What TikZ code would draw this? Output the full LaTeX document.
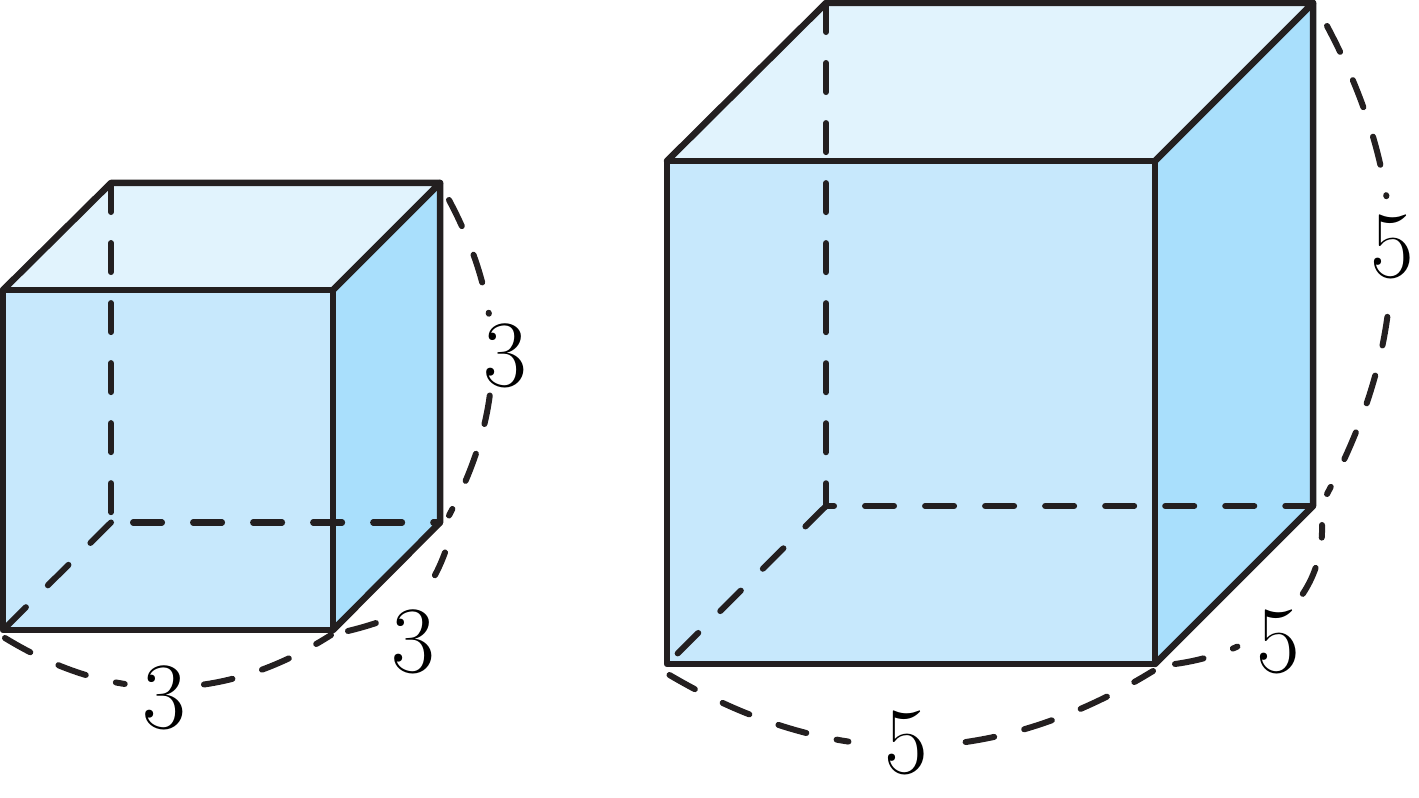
\documentclass[tikz,border=0pt]{standalone}
\usetikzlibrary{calc}
\definecolor{frontblue}{HTML}{C7E8FC}
\definecolor{sideblue}{HTML}{A9DFFC}
\definecolor{topblue}{HTML}{E1F3FD}
\definecolor{inkline}{HTML}{231F20}
\tikzset{%
	frontface/.style={fill=frontblue},
	sideface/.style={fill=sideblue},
	topface/.style={fill=topblue},
	edge/.style={draw=inkline, line width=0.065cm, line join=round, line cap=round},
	hidden/.style={draw=inkline, line width=0.06cm, line cap=round, dash pattern=on 0.29cm off 0.31cm},
	dimlabel/.style={inner sep=0pt, font=\fontsize{27}{27}\selectfont}
}

\begin{document}
\begin{tikzpicture}[x=0.01cm, y=0.01cm]
	\useasboundingbox (0,0) rectangle (1419,797);
	%small cube
	\coordinate (A1) at (3,167);
	\coordinate (A2) at (333,167);
	\coordinate (A3) at (333,507);
	\coordinate (A4) at (3,507);
	\coordinate (A5) at (111,274.5);
	\coordinate (A6) at (440,274.5);
	\coordinate (A7) at (440,614);
	\coordinate (A8) at (111,614);
	%large cube
	\coordinate (B1) at (667,133);
	\coordinate (B2) at (1155,133);
	\coordinate (B3) at (1155,636);
	\coordinate (B4) at (667,636);
	\coordinate (B5) at (826,291);
	\coordinate (B6) at (1313,291);
	\coordinate (B7) at (1313,794);
	\coordinate (B8) at (826,794);

	%faces
	\fill [frontface] (A1) -- (A2) -- (A3) -- (A4) -- cycle;
	\fill [sideface] (A2) -- (A6) -- (A7) -- (A3) -- cycle;
	\fill [topface] (A4) -- (A3) -- (A7) -- (A8) -- cycle;
	\fill [frontface] (B1) -- (B2) -- (B3) -- (B4) -- cycle;
	\fill [sideface] (B2) -- (B6) -- (B7) -- (B3) -- cycle;
	\fill [topface] (B4) -- (B3) -- (B7) -- (B8) -- cycle;

	%hidden edges
	\draw [hidden, dash phase=0.38cm] (A5) -- (A6);
	\draw [hidden] (A8) -- (A5);
	\draw [hidden] (A5) -- (A1);
	\draw [hidden, dash phase=0.21cm] (B5) -- (B6);
	\draw [hidden] (B8) -- (B5);
	\draw [hidden] (B5) -- (B1);

	%visible edges
	\draw [edge] (A1) -- (A2) -- (A3) -- (A4) -- cycle;
	\draw [edge] (A4) -- (A8) -- (A7) -- (A3);
	\draw [edge] (A2) -- (A6) -- (A7);
	\draw [edge] (B1) -- (B2) -- (B3) -- (B4) -- cycle;
	\draw [edge] (B4) -- (B8) -- (B7) -- (B3);
	\draw [edge] (B2) -- (B6) -- (B7);

	%labels
	\node [dimlabel] (a3) at (164,99) {3};
	\node [dimlabel] (d3) at (413,155) {3};
	\node [dimlabel] (h3) at (505,441) {3};
	\node [dimlabel] (a5) at (906,54) {5};
	\node [dimlabel] (d5) at (1278,155) {5};
	\node [dimlabel] (h5) at (1392,550) {5};

	%arcs
	\draw [hidden, dash pattern=on .29cm off .31cm on .29cm off .31cm on .09cm off .795cm on .29cm off .31cm on .29cm off .31cm on .29cm off 2cm]
	($(A1)+(2,-8)$) to[bend right=32] ($(A2)+(-2,-5)$);
	\draw [hidden, dash pattern=on .29cm off .78cm on .3cm off 2cm]
	($(A2)+(15,-1)$) .. controls (401,179) and (426,193) .. ($(A6)+(5,-30)$);
	\draw [hidden, dash pattern=on .29cm off .31cm on .29cm off .31cm on .01cm off .82cm on .29cm off .31cm on .29cm off .31cm on .29cm off 2cm]
	($(A7)+(9,-17)$) to[bend left=28] ($(A6)+(9,7)$);
	\draw [hidden, dash pattern=on .29cm off .31cm on .29cm off .31cm on .29cm off .31cm on .12cm off 1.175cm on .29cm off .31cm on .29cm off .31cm on .29cm off .31cm on .29cm off 2cm]
	($(B1)+(2.5,-11)$) to[bend right=31] ($(B2)+(-2,-7)$);
	\draw [hidden, dash pattern=on .29cm off .31cm on .05cm off .85cm on .29cm off .31cm on .3cm off 2cm]
	($(B2)+(20,0)$) .. controls (1255,144) and (1324,192) .. ($(B6)+(9,-19)$);
	\draw [hidden, dash pattern=on .29cm off .31cm on .29cm off .31cm on .29cm off .31cm on .01cm off 1.21cm on .29cm off .31cm on .29cm off .31cm on .29cm off .31cm on .29cm off 2cm]
	($(B7)+(14,-23)$) to[bend left=28] ($(B6)+(14,12)$);
\end{tikzpicture}
\end{document}
